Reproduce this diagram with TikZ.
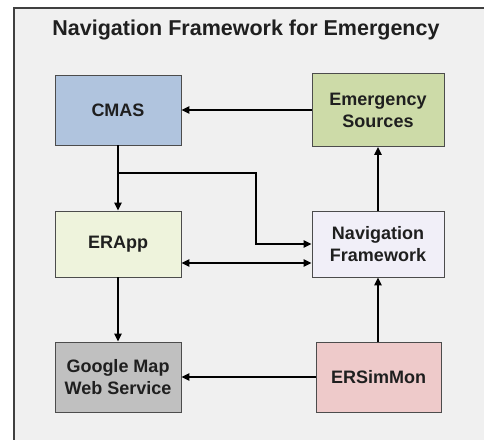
\documentclass[tikz,border=0pt]{standalone}
\usepackage{fontspec}
\setmainfont{Liberation Sans}
\usepackage{tikz}
\usetikzlibrary{arrows.meta, positioning}

\definecolor{frameback}{HTML}{F0F0F0}
\definecolor{cmasblue}{HTML}{B0C4DE}
\definecolor{srcgreen}{HTML}{CDDBA8}
\definecolor{appgreen}{HTML}{EEF3DC}
\definecolor{navlilac}{HTML}{F1EFF8}
\definecolor{mapgray}{HTML}{C0C0C0}
\definecolor{simpink}{HTML}{EECACA}

\begin{document}
\begin{tikzpicture}[x=1pt,y=-1pt,
	block/.style={draw=black!70, line width=0.9pt, align=center, inner sep=0pt,
		font=\fontsize{18}{22}\selectfont\bfseries, text=black!88},
	flow/.style={line width=1.4pt, -{Triangle[length=8pt,width=7.5pt]}},
	twoway/.style={line width=1.4pt, {Triangle[length=8pt,width=7.5pt]}-{Triangle[length=8pt,width=7.5pt]}}]
\useasboundingbox (0,0) rectangle (484,439);
\fill[white] (0,0) rectangle (484,439);
\draw[fill=frameback, draw=black!75, line width=1.3pt] (14,8) rectangle (495,450);
\node[font=\fontsize{21.5}{24}\selectfont\bfseries, text=black!88] (title) at (246,30) {Navigation Framework for Emergency};
	% top row
	\node[block, fill=cmasblue, minimum width=126pt, minimum height=70pt] (cmas) at (118,110) {CMAS};
	\node[block, fill=srcgreen, minimum width=132pt, minimum height=73pt] (sources) at (378,110) {Emergency\\Sources};
	% middle row
	\node[block, fill=appgreen, minimum width=126pt, minimum height=66pt] (erapp) at (118,244) {ERApp};
	\node[block, fill=navlilac, minimum width=132pt, minimum height=66pt] (nav) at (378,244) {Navigation\\Framework};
	% bottom row
	\node[block, fill=mapgray, minimum width=126pt, minimum height=70pt] (gmap) at (118,377) {Google Map\\Web Service};
	\node[block, fill=simpink, minimum width=125pt, minimum height=70pt] (simmon) at (378.5,377) {ERSimMon};
	%
	\coordinate (split) at (118,173);
	\coordinate (bend) at (256,173);
	\draw[flow] (sources) -- (cmas);
	\draw[flow] (cmas) -- (erapp);
	\draw[flow] (split) -- (bend) |- (nav.west);
	\draw[twoway] ([yshift=-19pt]erapp.east) -- ([yshift=-19pt]nav.west);
	\draw[flow] (nav) -- (sources);
	\draw[flow] (erapp) -- (gmap);
	\draw[flow] (simmon.north -| nav.south) -- (nav.south);
	\draw[flow] (simmon) -- (gmap);
\end{tikzpicture}
\end{document}
